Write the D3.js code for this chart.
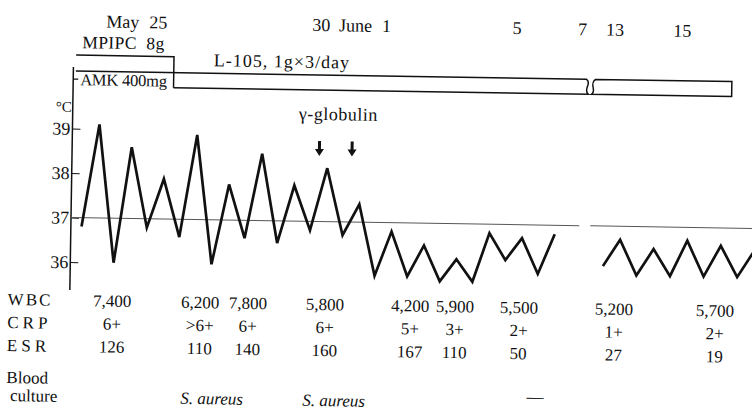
<!DOCTYPE html>
<html>
<head>
<meta charset="utf-8">
<script src="https://cdn.jsdelivr.net/npm/d3@7"></script>
<style>
  html, body { margin: 0; padding: 0; background: #fff; }
  svg { display: block; }
  text { fill: #111; white-space: pre; font-family: "Liberation Serif", "DejaVu Serif", serif; }
</style>
</head>
<body>
<svg id="chart" width="752" height="410"></svg>
<script>
// Days are counted from May 1 (so June 1 = 32). Two readings a day: am = +0.25, pm = +0.75.
const tempStartA = 23; // May 23, first reading
const tempA = [36.8, 39.1, 36.0, 38.6, 36.8, 37.9, 36.6, 38.9, 36.0, 37.8,
               36.6, 38.5, 36.5, 37.8, 36.8, 38.2, 36.7, 37.4, 35.8, 36.8,
               35.8, 36.5, 35.7, 36.2, 35.7, 36.8, 36.2, 36.7, 35.9, 36.8];
const tempStartB = 44; // June 13
const tempB = [36.1, 36.7, 35.9, 36.5, 35.9, 36.7, 35.9, 36.6, 35.9, 36.5];

const dateDays = [25, 30, 32, 36, 38, 44, 46];
const dateLabels = ["25", "30", "1", "5", "7", "13", "15"];
const dateMonths = ["May", "", "June", "", "", "", ""];

const tempTicks = [36, 37, 38, 39];

// drugs: [start day, end day]
const mpipcDays = [23, 26];
const l105Days = [26, 48];
const gammaDays = [30, 31];

// lab columns (position on the date axis)
const labDays = [24.23, 26.92, 28.39, 30.75, 33.36, 34.73, 36.69, 44.6, 47.61];
const wbc = [7400, 6200, 7800, 5800, 4200, 5900, 5500, 5200, 5700];
const crp = ["6+", ">6+", "6+", "6+", "5+", "3+", "2+", "1+", "2+"];
const esr = [126, 110, 140, 160, 167, 110, 50, 27, 19];
const cultureDays = [27.32, 31.06, 37.23];
const cultureResults = ["S. aureus", "S. aureus", "\u2014"];

const svg = d3.select("#chart");
// the scanned figure sits slightly askew
const g = svg.append("g")
  .attr("transform", "rotate(0.92,70,218)")
  .attr("font-family", "Liberation Serif, DejaVu Serif, serif");

// broken time axis: June 7 -> June 13 is squeezed into a gap
const x = d3.scaleLinear()
  .domain([23, 38.5, 44, 49])
  .range([73.5, 579.4, 595.2, 763.2]);
const y = d3.scaleLinear().domain([36, 39]).range([262, 128.5]);
const breakX = (x(38.5) + x(44)) / 2 + 2;

const axisX = 71;

// date labels
const dl = g.append("g").attr("font-size", 18);
dateDays.forEach((d, i) => {
  const cx = x(d + 0.5);
  const t = dl.append("text")
    .attr("x", cx).attr("y", 27)
    .attr("text-anchor", "middle")
    .text(dateLabels[i]);
  if (dateMonths[i]) {
    const w = t.node().getComputedTextLength();
    dl.append("text")
      .attr("x", cx - w / 2 - 10).attr("y", 27)
      .attr("text-anchor", "end")
      .text(dateMonths[i]);
  }
});

// drug bars
const barTop = 55, barMid = 71, barBot = 86;
const bars = g.append("g").attr("fill", "none").attr("stroke", "#111").attr("stroke-width", 1.5);

bars.append("path")
  .attr("d", `M${x(mpipcDays[0])},${barTop}H${x(mpipcDays[1])}V${barBot}`);

// L-105 first piece, with break
bars.append("path")
  .attr("d", `M${x(mpipcDays[0])},${barMid}H${breakX - 5}` +
    `C${breakX + 1},${barMid + 4} ${breakX - 9},${barBot - 5} ${breakX - 3},${barBot}` +
    `H${x(l105Days[0])}`);
// L-105 second piece
bars.append("path")
  .attr("d", `M${breakX + 4},${barMid}` +
    `C${breakX - 3},${barMid + 5} ${breakX + 6},${barBot - 4} ${breakX},${barBot}` +
    `H${x(l105Days[1])}V${barMid}Z`);

g.append("text")
  .attr("x", x(mpipcDays[0]) + 6).attr("y", 48)
  .attr("font-size", 17.5)
  .attr("letter-spacing", 0.4)
  .text("MPIPC  8g");

g.append("text")
  .attr("x", x(l105Days[0]) + 40).attr("y", 64)
  .attr("font-size", 18)
  .attr("letter-spacing", 1)
  .text("L-105, 1g\u00d73/day");

g.append("line")
  .attr("x1", axisX).attr("x2", axisX + 5)
  .attr("y1", 79).attr("y2", 79)
  .attr("stroke", "#111").attr("stroke-width", 1.3);
g.append("text")
  .attr("x", axisX + 7).attr("y", 85)
  .attr("font-size", 16.5)
  .attr("letter-spacing", -0.2)
  .text("AMK 400mg");

// temperature axis
g.append("line")
  .attr("x1", axisX).attr("x2", axisX)
  .attr("y1", 67).attr("y2", 290)
  .attr("stroke", "#111").attr("stroke-width", 1.5);

const yAxis = g.append("g")
  .attr("transform", `translate(${axisX},0)`)
  .call(d3.axisLeft(y).tickValues(tempTicks).tickFormat(d3.format("d"))
    .tickSizeInner(-8).tickSizeOuter(0).tickPadding(2));
yAxis.select(".domain").remove();
yAxis.attr("font-family", null).attr("font-size", null);
yAxis.selectAll(".tick line").attr("stroke", "#111").attr("stroke-width", 1);
yAxis.selectAll(".tick text")
  .attr("font-size", 18)
  .attr("fill", "#111");

g.append("text")
  .attr("x", axisX - 1).attr("y", 112)
  .attr("text-anchor", "end")
  .attr("font-size", 15)
  .text("\u00b0C");

// 37 reference line, broken at the gap
g.append("line")
  .attr("x1", axisX).attr("x2", breakX - 10)
  .attr("y1", y(37)).attr("y2", y(37))
  .attr("stroke", "#555").attr("stroke-width", 1);
g.append("line")
  .attr("x1", breakX + 1).attr("x2", 760)
  .attr("y1", y(37)).attr("y2", y(37))
  .attr("stroke", "#555").attr("stroke-width", 1);

// temperature curve
const line = d3.line().x((d) => x(d.t)).y((d) => y(d.v));
const toPoints = (start, vals) => vals.map((v, i) => ({ t: start + 0.25 + i * 0.5, v }));

[toPoints(tempStartA, tempA), toPoints(tempStartB, tempB)].forEach((pts) => {
  g.append("path")
    .attr("d", line(pts))
    .attr("fill", "none")
    .attr("stroke", "#111")
    .attr("stroke-width", 2.7)
    .attr("stroke-linejoin", "miter");
});

// gamma-globulin arrows
const gx = gammaDays.map((d) => x(d + 0.5));
g.append("text")
  .attr("x", d3.mean(gx) + 2).attr("y", 116)
  .attr("text-anchor", "middle")
  .attr("font-size", 18)
  .attr("letter-spacing", 0.5)
  .text("\u03b3-globulin");
gx.forEach((ax) => {
  g.append("line")
    .attr("x1", ax).attr("x2", ax).attr("y1", 137).attr("y2", 146)
    .attr("stroke", "#111").attr("stroke-width", 3);
  g.append("path")
    .attr("d", `M${ax - 4.5},${145}L${ax + 4.5},${145}L${ax},${152}Z`)
    .attr("fill", "#111");
});

// lab table
const rowY = { wbc: 306, crp: 329, esr: 352, blood: 384, culture: 402 };
const tbl = g.append("g").attr("font-size", 17);

tbl.append("text").attr("x", 9).attr("y", rowY.wbc).attr("letter-spacing", 2).text("WBC");
tbl.append("text").attr("x", 9).attr("y", rowY.crp).attr("letter-spacing", 4).text("CRP");
tbl.append("text").attr("x", 9).attr("y", rowY.esr).attr("letter-spacing", 4).text("ESR");
tbl.append("text").attr("x", 9).attr("y", rowY.blood).text("Blood");
tbl.append("text").attr("x", 13).attr("y", rowY.culture).text("culture");

const fmt = d3.format(",");
const rows = [
  [wbc.map(fmt), rowY.wbc],
  [crp, rowY.crp],
  [esr.map(String), rowY.esr],
];
rows.forEach(([vals, ry]) => {
  tbl.selectAll(null)
    .data(vals)
    .enter()
    .append("text")
    .attr("x", (d, i) => x(labDays[i]))
    .attr("y", ry)
    .attr("text-anchor", "middle")
    .text((d) => d);
});

tbl.selectAll(null)
  .data(cultureResults)
  .enter()
  .append("text")
  .attr("x", (d, i) => x(cultureDays[i]))
  .attr("y", rowY.culture)
  .attr("dy", (d) => (d.length > 2 ? 0 : -7))
  .attr("text-anchor", "middle")
  .attr("font-style", (d) => (d.length > 2 ? "italic" : null))
  .text((d) => d);
</script>
</body>
</html>
